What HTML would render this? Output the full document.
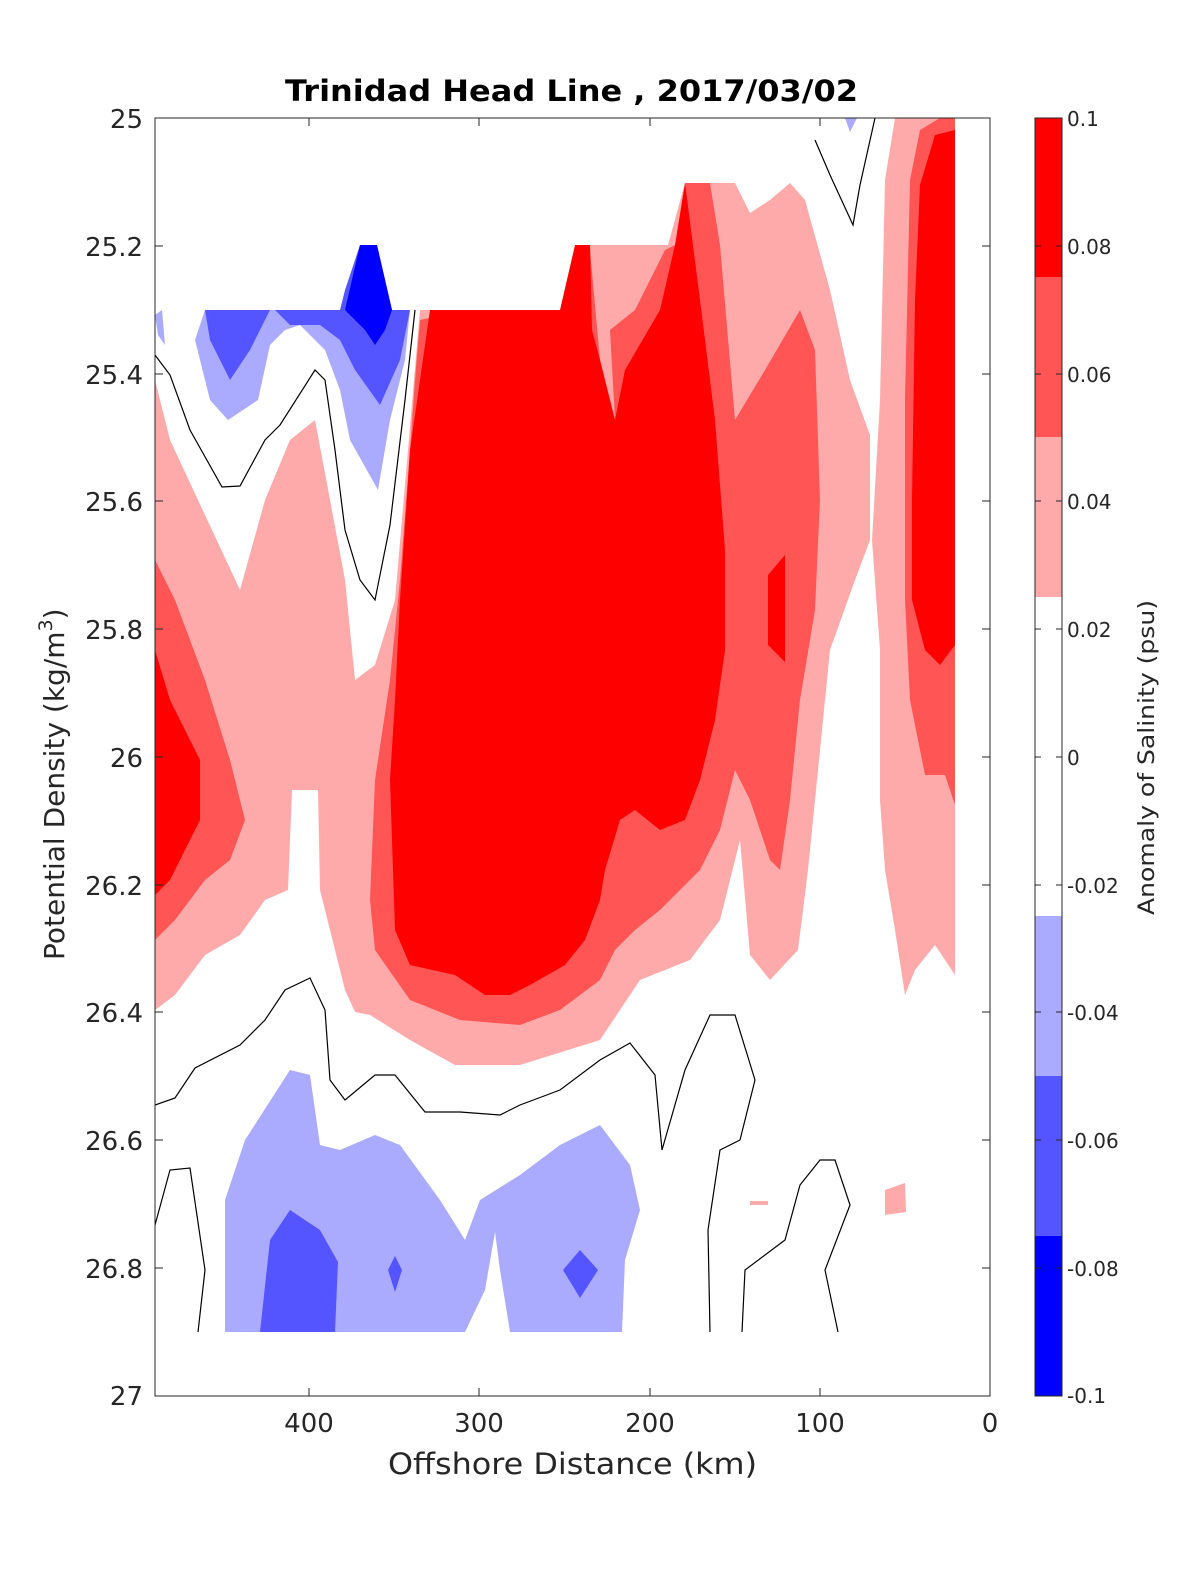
<!DOCTYPE html>
<html><head><meta charset="utf-8"><style>
body{margin:0;background:#fff;}
svg{display:block;font-family:"DejaVu Sans","Liberation Sans",sans-serif;}
</style></head><body>
<svg width="1200" height="1575" viewBox="0 0 1200 1575" xmlns="http://www.w3.org/2000/svg">
<rect width="1200" height="1575" fill="#fff"/>
<defs><clipPath id="c"><rect x="155" y="118" width="835" height="1278"/></clipPath></defs>
<g clip-path="url(#c)" stroke="none">
<polygon fill="#ffaaaa" points="155,380 170,440 205,515 240,590 265,500 290,440 315,420 330,500 345,580 355,680 375,665 395,600 408,450 420,310 565,310 580,245 668,245 685,183 735,183 750,213 770,200 790,183 805,200 830,290 850,380 870,435 870,540 855,580 830,650 820,750 808,870 798,950 770,980 750,955 740,840 720,920 690,960 640,980 600,1040 520,1065 455,1065 410,1040 370,1015 355,1012 345,990 330,930 320,890 318,790 292,790 288,890 265,900 240,935 205,955 175,995 155,1010"/>
<polygon fill="#ffaaaa" points="895,118 955,118 955,975 935,945 915,970 905,995 895,930 885,870 880,800 880,650 872,540 880,400 885,180"/>
<polygon fill="#ff5555" points="155,560 175,600 205,680 230,760 245,820 230,860 205,880 175,920 155,940"/>
<polygon fill="#ff5555" points="415,380 420,320 465,310 565,310 580,245 590,250 600,360 615,420 610,330 635,310 665,250 685,240 685,183 710,183 720,245 735,420 765,370 800,310 815,350 820,500 815,610 800,700 790,800 780,870 770,860 750,800 735,770 720,830 700,870 660,910 635,930 615,950 600,980 560,1010 520,1025 460,1020 410,1000 375,950 370,900 375,780 390,680 400,580 410,450"/>
<polygon fill="#ff5555" points="955,118 955,805 945,775 925,775 910,700 905,600 905,400 910,180 920,130 940,118"/>
<polygon fill="#ff0000" points="155,650 170,700 185,730 200,760 200,820 185,850 170,880 155,895"/>
<polygon fill="#ff0000" points="430,310 560,310 575,245 590,245 592,330 600,360 615,420 625,370 660,310 675,245 685,183 700,300 715,420 725,550 725,650 715,720 700,780 685,820 660,830 635,810 620,820 605,870 600,900 585,940 565,965 530,985 510,995 485,995 455,975 410,965 395,930 390,780 395,700 400,600 410,450 420,380"/>
<polygon fill="#ff0000" points="768,575 785,555 785,662 768,645"/>
<polygon fill="#ff0000" points="920,185 935,135 955,130 955,645 940,665 925,650 912,600 912,500 915,300"/>
<polygon fill="#aaaaff" points="205,310 410,310 405,360 390,420 378,490 350,440 340,390 325,350 300,325 285,330 270,345 258,400 228,420 210,400 195,340"/>
<polygon fill="#aaaaff" points="155,315 162,310 165,345 158,335"/>
<polygon fill="#5555ff" points="205,310 270,310 250,350 230,380 210,340"/>
<polygon fill="#5555ff" points="275,310 340,310 345,290 360,245 377,245 392,310 410,310 400,360 380,405 355,370 340,340 320,325 290,325"/>
<polygon fill="#0000ff" points="345,310 360,245 377,245 392,310 385,330 375,345 365,330"/>
<polygon fill="#aaaaff" points="845,118 857,118 850,132"/>
<polygon fill="#aaaaff" points="225,1200 245,1140 290,1070 310,1075 320,1145 340,1150 375,1135 400,1145 440,1200 465,1240 480,1200 520,1175 560,1145 600,1125 630,1165 640,1210 625,1260 622,1332 510,1332 500,1270 495,1232 485,1290 465,1332 225,1332"/>
<polygon fill="#5555ff" points="260,1332 270,1240 290,1210 320,1230 338,1262 335,1332"/>
<polygon fill="#5555ff" points="388,1270 395,1256 402,1270 395,1292"/>
<polygon fill="#5555ff" points="563,1270 580,1250 598,1270 580,1298"/>
<polygon fill="#ffaaaa" points="885,1190 905,1183 906,1212 885,1215"/>
<polygon fill="#ffaaaa" points="750,1201 768,1201 768,1205 750,1205"/>
<g fill="none" stroke="#000" stroke-width="1.2">
<polyline points="155,355 170,375 190,430 222,487 240,486 265,440 280,425 315,370 325,380 335,450 345,530 360,580 375,600 390,525 405,400 415,310"/>
<polyline points="155,1105 175,1098 195,1068 240,1045 265,1020 285,990 310,978 325,1010 330,1080 345,1100 375,1075 395,1075 425,1112 460,1112 500,1115 520,1105 560,1090 600,1060 630,1043 655,1075 662,1150 685,1070 710,1015 735,1015 755,1080 740,1140 720,1150 708,1230 710,1332"/>
<polyline points="155,1225 170,1170 190,1168 205,1270 198,1332"/>
<polyline points="742,1332 745,1270 785,1240 800,1185 820,1160 835,1160 850,1205 825,1270 838,1332"/>
<polyline points="815,140 830,175 853,225 860,185 875,118"/>
</g>
</g>
<rect x="155" y="118" width="835" height="1278" fill="none" stroke="#262626" stroke-width="1"/>
<g stroke="#262626" stroke-width="1">
<line x1="155" y1="246" x2="163" y2="246"/><line x1="155" y1="374" x2="163" y2="374"/><line x1="155" y1="501" x2="163" y2="501"/><line x1="155" y1="629" x2="163" y2="629"/><line x1="155" y1="757" x2="163" y2="757"/><line x1="155" y1="885" x2="163" y2="885"/><line x1="155" y1="1012" x2="163" y2="1012"/><line x1="155" y1="1140" x2="163" y2="1140"/><line x1="155" y1="1268" x2="163" y2="1268"/>
<line x1="990" y1="246" x2="982" y2="246"/><line x1="990" y1="374" x2="982" y2="374"/><line x1="990" y1="501" x2="982" y2="501"/><line x1="990" y1="629" x2="982" y2="629"/><line x1="990" y1="757" x2="982" y2="757"/><line x1="990" y1="885" x2="982" y2="885"/><line x1="990" y1="1012" x2="982" y2="1012"/><line x1="990" y1="1140" x2="982" y2="1140"/><line x1="990" y1="1268" x2="982" y2="1268"/>
<line x1="309" y1="1396" x2="309" y2="1388"/><line x1="479" y1="1396" x2="479" y2="1388"/><line x1="650" y1="1396" x2="650" y2="1388"/><line x1="820" y1="1396" x2="820" y2="1388"/>
<line x1="309" y1="118" x2="309" y2="126"/><line x1="479" y1="118" x2="479" y2="126"/><line x1="650" y1="118" x2="650" y2="126"/><line x1="820" y1="118" x2="820" y2="126"/>
</g>
<g font-size="26" fill="#262626" text-anchor="end">
<text x="143" y="128">25</text><text x="143" y="256">25.2</text><text x="143" y="384">25.4</text><text x="143" y="511">25.6</text><text x="143" y="639">25.8</text><text x="143" y="767">26</text><text x="143" y="895">26.2</text><text x="143" y="1022">26.4</text><text x="143" y="1150">26.6</text><text x="143" y="1278">26.8</text><text x="143" y="1405">27</text>
</g>
<g font-size="26" fill="#262626" text-anchor="middle">
<text x="309" y="1432">400</text><text x="479" y="1432">300</text><text x="650" y="1432">200</text><text x="820" y="1432">100</text><text x="990" y="1432">0</text>
</g>
<text x="388" y="1474" font-size="29" fill="#262626" textLength="369" lengthAdjust="spacingAndGlyphs">Offshore Distance (km)</text>
<text x="285" y="101" font-size="29" font-weight="bold" fill="#000" textLength="573" lengthAdjust="spacingAndGlyphs">Trinidad Head Line , 2017/03/02</text>
<text transform="translate(64,960) rotate(-90)" font-size="28" fill="#262626">Potential Density (kg/m<tspan font-size="19" dy="-12">3</tspan><tspan dy="12">)</tspan></text>
<rect x="1035" y="118" width="27" height="160" fill="#ff0000"/>
<rect x="1035" y="277" width="27" height="160" fill="#ff5555"/>
<rect x="1035" y="437" width="27" height="160" fill="#ffaaaa"/>
<rect x="1035" y="597" width="27" height="320" fill="#ffffff"/>
<rect x="1035" y="916" width="27" height="160" fill="#aaaaff"/>
<rect x="1035" y="1076" width="27" height="160" fill="#5555ff"/>
<rect x="1035" y="1236" width="27" height="160" fill="#0000ff"/>
<rect x="1035" y="118" width="27" height="1278" fill="none" stroke="#262626" stroke-width="1"/>
<g stroke="#262626" stroke-width="1">
<line x1="1035" y1="246" x2="1041" y2="246"/><line x1="1056" y1="246" x2="1062" y2="246"/>
<line x1="1035" y1="374" x2="1041" y2="374"/><line x1="1056" y1="374" x2="1062" y2="374"/>
<line x1="1035" y1="501" x2="1041" y2="501"/><line x1="1056" y1="501" x2="1062" y2="501"/>
<line x1="1035" y1="629" x2="1041" y2="629"/><line x1="1056" y1="629" x2="1062" y2="629"/>
<line x1="1035" y1="757" x2="1041" y2="757"/><line x1="1056" y1="757" x2="1062" y2="757"/>
<line x1="1035" y1="885" x2="1041" y2="885"/><line x1="1056" y1="885" x2="1062" y2="885"/>
<line x1="1035" y1="1012" x2="1041" y2="1012"/><line x1="1056" y1="1012" x2="1062" y2="1012"/>
<line x1="1035" y1="1140" x2="1041" y2="1140"/><line x1="1056" y1="1140" x2="1062" y2="1140"/>
<line x1="1035" y1="1268" x2="1041" y2="1268"/><line x1="1056" y1="1268" x2="1062" y2="1268"/>
</g>
<g font-size="20" fill="#262626">
<text x="1067" y="126">0.1</text><text x="1067" y="254">0.08</text><text x="1067" y="382">0.06</text><text x="1067" y="509">0.04</text><text x="1067" y="637">0.02</text><text x="1067" y="765">0</text><text x="1067" y="893">-0.02</text><text x="1067" y="1020">-0.04</text><text x="1067" y="1148">-0.06</text><text x="1067" y="1276">-0.08</text><text x="1067" y="1403">-0.1</text>
</g>
<text transform="translate(1154,915) rotate(-90)" font-size="22" fill="#262626" textLength="315" lengthAdjust="spacingAndGlyphs">Anomaly of Salinity (psu)</text>
</svg>
</body></html>
